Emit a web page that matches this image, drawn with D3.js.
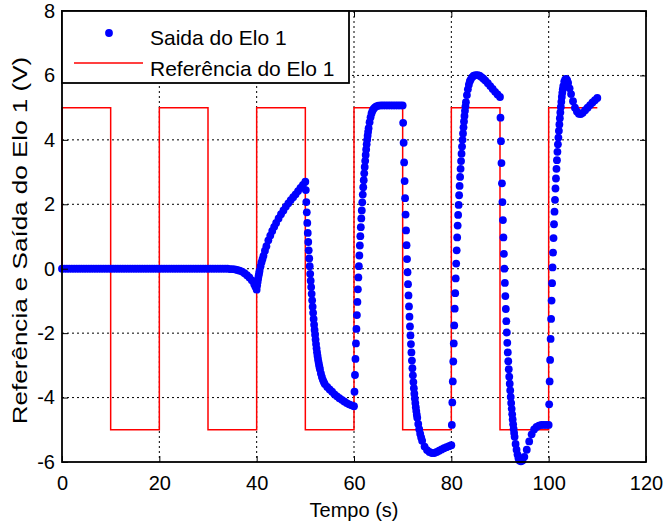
<!DOCTYPE html>
<html>
<head>
<meta charset="utf-8">
<script src="https://cdn.jsdelivr.net/npm/d3@7"></script>
<style>
  body { margin: 0; background: #fff; }
  text { font-family: "Liberation Sans", Arial, sans-serif; }
</style>
</head>
<body>
<svg id="chart"></svg>
<script>
// tick values
const xTicks = [0, 20, 40, 60, 80, 100, 120];
const yTicks = [-6, -4, -2, 0, 2, 4, 6, 8];

// reference square wave (step after each time)
const refTimes  = [0, 0, 10, 20, 30, 40, 50, 60, 70, 80, 90, 100, 110];
const refLevels = [0, 5, -5, 5, -5, 5, -5, 5, -5, 5, -5, 5, 5];

// output samples [t, v]
const outA = [[0,0],[0.5,0],[1,0],[1.5,0],[2,0],[2.5,0],[3,0],[3.5,0],[4,0],[4.5,0],[5,0],[5.5,0],[6,0],[6.5,0],[7,0],[7.5,0],[8,0],[8.5,0],[9,0],[9.5,0],
  [10,0],[10.5,0],[11,0],[11.5,0],[12,0],[12.5,0],[13,0],[13.5,0],[14,0],[14.5,0],[15,0],[15.5,0],[16,0],[16.5,0],[17,0],[17.5,0],[18,0],[18.5,0],[19,0],[19.5,0],
  [20,0],[20.5,0],[21,0],[21.5,0],[22,0],[22.5,0],[23,0],[23.5,0],[24,0],[24.5,0],[25,0],[25.5,0],[26,0],[26.5,0],[27,0],[27.5,0],[28,0],[28.5,0],[29,0],[29.5,0],
  [30,0],[30.5,0],[31,0],[31.5,0],[32,0],[32.5,0],[33,0],[33.5,0],[34,0],[34.5,-0.01],[35,-0.01],[35.5,-0.02],[36,-0.04],[36.5,-0.06],[37,-0.09],[37.5,-0.14],
  [38,-0.2],[38.5,-0.27],[39,-0.36],[39.5,-0.48],[39.75,-0.56],[40,-0.65]];
const outB = [[40.1,-0.52],[40.2,-0.41],[40.3,-0.31],[40.4,-0.22],[40.5,-0.14],[40.6,-0.06],[40.8,0.08],[41,0.2],[41.2,0.3],[41.4,0.4],[41.7,0.56],[42,0.7],
  [42.4,0.88],[42.8,1.03],[43.2,1.17],[43.6,1.3],[44,1.42],[44.5,1.56],[45,1.69],[45.5,1.81],[46,1.93],[46.5,2.03],[47,2.13],[47.5,2.22],[48,2.31],
  [48.5,2.41],[49,2.51],[49.5,2.6],[50,2.7]];
const outC = [[50.1,2.44],[50.2,2.07],[50.3,1.75],[50.4,1.42],[50.5,1.11],[50.6,0.83],[50.7,0.57],[50.8,0.32],[50.9,0.08],[51,-0.16],[51.1,-0.37],
  [51.2,-0.57],[51.3,-0.78],[51.4,-0.98],[51.5,-1.18],[51.6,-1.37],[51.7,-1.56],[51.8,-1.74],[51.9,-1.9],[52,-2.05],[52.1,-2.2],[52.2,-2.34],[52.3,-2.47],
  [52.4,-2.59],[52.5,-2.7],[52.6,-2.8],[52.7,-2.89],[52.8,-2.97],[52.9,-3.05],[53,-3.12],[53.2,-3.25],[53.4,-3.36],[53.6,-3.45],[53.8,-3.52],[54,-3.58],
  [54.5,-3.67],[55,-3.75],[55.5,-3.82],[56,-3.9],[56.5,-3.96],[57,-4.02],[57.5,-4.07],[58,-4.12],[58.5,-4.17],[59,-4.21],[59.5,-4.24],[60,-4.27]];
const outD = [[60.1,-3.82],[60.2,-3.3],[60.3,-2.8],[60.4,-2.32],[60.5,-1.87],[60.6,-1.44],[60.7,-1.03],[60.8,-0.64],[60.9,-0.27],[61,0.08],[61.1,0.41],
  [61.2,0.72],[61.3,1.01],[61.4,1.29],[61.5,1.56],[61.6,1.81],[61.7,2.06],[61.8,2.3],[61.9,2.53],[62,2.75],[62.1,2.96],[62.2,3.16],[62.3,3.35],[62.4,3.53],
  [62.5,3.7],[62.6,3.86],[62.7,4],[62.8,4.13],[62.9,4.25],[63,4.36],[63.2,4.55],[63.4,4.7],[63.6,4.82],[63.8,4.9],[64,4.96],[64.3,5.01],[64.6,5.04],
  [65,5.06],[65.5,5.07],[66,5.07],[66.5,5.07],[67,5.07],[67.5,5.07],[68,5.07],[68.5,5.07],[69,5.07],[69.5,5.07],[70,5.07]];
const outE = [[70.1,4.53],[70.2,3.91],[70.3,3.3],[70.4,2.72],[70.5,2.19],[70.6,1.68],[70.7,1.19],[70.8,0.73],[70.9,0.3],[71,-0.11],[71.1,-0.48],
  [71.2,-0.83],[71.3,-1.17],[71.4,-1.49],[71.5,-1.79],[71.6,-2.07],[71.7,-2.34],[71.8,-2.6],[71.9,-2.85],[72,-3.09],[72.1,-3.31],[72.2,-3.52],[72.3,-3.71],
  [72.4,-3.88],[72.5,-4.03],[72.6,-4.17],[72.7,-4.3],[72.8,-4.42],[72.9,-4.53],[73,-4.63],[73.2,-4.82],[73.4,-4.98],[73.6,-5.12],[73.8,-5.24],[74,-5.34],
  [74.5,-5.52],[75,-5.63],[75.5,-5.69],[76,-5.72],[76.5,-5.72],[77,-5.69],[77.5,-5.65],[78,-5.61],[78.5,-5.57],[79,-5.54],[79.5,-5.51],[80,-5.48]];
const outF = [[80.1,-4.85],[80.2,-4.15],[80.3,-3.5],[80.4,-2.88],[80.5,-2.32],[80.6,-1.76],[80.7,-1.24],[80.8,-0.76],[80.9,-0.3],[81,0.16],[81.1,0.57],
  [81.2,0.97],[81.3,1.34],[81.4,1.67],[81.5,1.98],[81.6,2.28],[81.7,2.57],[81.8,2.85],[81.9,3.1],[82,3.34],[82.1,3.57],[82.2,3.79],[82.3,4],[82.4,4.2],
  [82.5,4.39],[82.6,4.57],[82.7,4.74],[82.8,4.9],[82.9,5.04],[83,5.17],[83.2,5.39],[83.4,5.57],[83.6,5.71],[83.8,5.82],[84,5.88],[84.3,5.95],[84.6,5.99],
  [85,6.01],[85.4,6.01],[85.8,5.99],[86.2,5.95],[86.6,5.9],[87,5.84],[87.5,5.76],[88,5.67],[88.5,5.58],[89,5.49],[89.5,5.41],[90,5.33]];
const outG = [[90.1,4.69],[90.2,3.96],[90.3,3.28],[90.4,2.65],[90.5,2.07],[90.6,1.51],[90.7,0.97],[90.8,0.46],[90.9,0],[91,-0.44],[91.1,-0.85],
  [91.2,-1.25],[91.3,-1.63],[91.4,-1.98],[91.5,-2.3],[91.6,-2.6],[91.7,-2.87],[91.8,-3.12],[91.9,-3.35],[92,-3.57],[92.1,-3.78],[92.2,-3.98],[92.3,-4.17],
  [92.4,-4.35],[92.5,-4.52],[92.6,-4.68],[92.7,-4.83],[92.8,-4.97],[92.9,-5.1],[93,-5.22],[93.2,-5.44],[93.4,-5.62],[93.6,-5.77],[93.8,-5.88],[94,-5.95],
  [94.3,-5.98],[94.6,-5.95],[95,-5.84],[95.5,-5.62],[96,-5.36],[96.5,-5.14],[97,-4.99],[97.5,-4.91],[98,-4.87],[98.5,-4.85],[99,-4.85],[99.5,-4.85],[100,-4.85]];
const outH = [[100.1,-4.21],[100.2,-3.5],[100.3,-2.83],[100.4,-2.18],[100.5,-1.56],[100.6,-0.99],[100.7,-0.45],[100.8,0.04],[100.9,0.5],[101,0.95],
  [101.1,1.38],[101.2,1.77],[101.3,2.14],[101.4,2.49],[101.5,2.8],[101.6,3.1],[101.7,3.37],[101.8,3.63],[101.9,3.86],[102,4.07],[102.1,4.28],[102.2,4.48],
  [102.3,4.67],[102.4,4.85],[102.5,5.02],[102.6,5.18],[102.7,5.33],[102.8,5.46],[102.9,5.57],[103,5.67],[103.2,5.81],[103.4,5.88],[103.6,5.89],[103.8,5.85],
  [104,5.77],[104.3,5.6],[104.6,5.42],[105,5.2],[105.4,5],[105.8,4.88],[106.2,4.81],[106.6,4.8],[107,4.84],[107.5,4.92],[108,5],[108.5,5.08],[109,5.16],
  [109.5,5.23],[110,5.3]];

const labels = {
  x: "Tempo (s)",
  y: "Referência e Saída do Elo 1 (V)",
  out: "Saida do Elo 1",
  ref: "Referência do Elo 1"
};

const margin = {top: 11, right: 19, bottom: 63, left: 62};
const width = 665 - margin.left - margin.right;
const height = 525 - margin.top - margin.bottom;

const svg = d3.select("#chart")
  .attr("width", 665)
  .attr("height", 525)
  .append("g")
  .attr("transform", "translate(" + margin.left + "," + margin.top + ")");

const x = d3.scaleLinear().domain([0, 120]).range([0, width]);
const y = d3.scaleLinear().domain([-6, 8]).range([height, 0]);

// dotted grid
svg.append("g").selectAll("line")
  .data(xTicks.slice(1, -1))
  .enter().append("line")
  .attr("x1", d => x(d)).attr("x2", d => x(d))
  .attr("y1", 0).attr("y2", height)
  .attr("stroke", "#000").attr("stroke-width", 1)
  .attr("stroke-dasharray", "2,3");
svg.append("g").selectAll("line")
  .data(yTicks.slice(1, -1))
  .enter().append("line")
  .attr("y1", d => y(d)).attr("y2", d => y(d))
  .attr("x1", 0).attr("x2", width)
  .attr("stroke", "#000").attr("stroke-width", 1)
  .attr("stroke-dasharray", "2,3");

// reference
const refPts = refTimes.map((t, i) => [t, refLevels[i]]);
svg.append("path")
  .datum(refPts)
  .attr("fill", "none")
  .attr("stroke", "#ff0000")
  .attr("stroke-width", 1.5)
  .attr("d", d3.line().x(d => x(d[0])).y(d => y(d[1])).curve(d3.curveStepAfter));

// output dots
const outAll = [].concat(outA, outB, outC, outD, outE, outF, outG, outH);
svg.append("g").selectAll("circle")
  .data(outAll)
  .enter().append("circle")
  .attr("cx", d => x(d[0]))
  .attr("cy", d => y(d[1]))
  .attr("r", 3.9)
  .attr("fill", "#0000ff");

// axes, ticks pointing inward on all four sides
const plain = d => String(d);
svg.append("g")
  .attr("transform", "translate(0," + height + ")")
  .call(d3.axisBottom(x).tickValues(xTicks).tickSize(-6).tickPadding(14).tickFormat(plain));
svg.append("g")
  .call(d3.axisLeft(y).tickValues(yTicks).tickSize(-6).tickPadding(7).tickFormat(plain));
svg.append("g")
  .call(d3.axisTop(x).tickValues(xTicks).tickSize(-6).tickFormat(""));
svg.append("g")
  .attr("transform", "translate(" + width + ",0)")
  .call(d3.axisRight(y).tickValues(yTicks).tickSize(-6).tickFormat(""));
svg.selectAll(".domain").remove();
svg.selectAll(".tick line").attr("stroke", "#000").attr("stroke-width", 1);
svg.selectAll(".tick text")
  .attr("fill", "#000")
  .style("font-size", "20px")
  .style("font-family", "'Liberation Sans', Arial, sans-serif");

svg.append("rect")
  .attr("x", 0).attr("y", 0)
  .attr("width", width).attr("height", height)
  .attr("fill", "none")
  .attr("stroke", "#000")
  .attr("stroke-width", 1.8);

// axis titles
svg.append("text")
  .attr("x", width / 2)
  .attr("y", height + 55)
  .attr("text-anchor", "middle")
  .style("font-size", "20px")
  .text(labels.x);
svg.append("text")
  .attr("transform", "translate(" + (-35) + "," + (height / 2 + 4) + ") rotate(-90) scale(1.24,1)")
  .attr("text-anchor", "middle")
  .style("font-size", "21px")
  .text(labels.y);

// legend
const lg = svg.append("g");
lg.append("rect")
  .attr("x", 0).attr("y", 0)
  .attr("width", 287).attr("height", 72)
  .attr("fill", "#fff")
  .attr("stroke", "#000")
  .attr("stroke-width", 1.8);
lg.append("circle")
  .attr("cx", 47).attr("cy", 22)
  .attr("r", 3.9)
  .attr("fill", "#0000ff");
lg.append("line")
  .attr("x1", 12).attr("x2", 81)
  .attr("y1", 52).attr("y2", 52)
  .attr("stroke", "#ff0000")
  .attr("stroke-width", 1.5);
lg.append("text")
  .attr("x", 88).attr("y", 34)
  .style("font-size", "21px")
  .text(labels.out);
lg.append("text")
  .attr("x", 88).attr("y", 65)
  .style("font-size", "21px")
  .text(labels.ref);
</script>
</body>
</html>
